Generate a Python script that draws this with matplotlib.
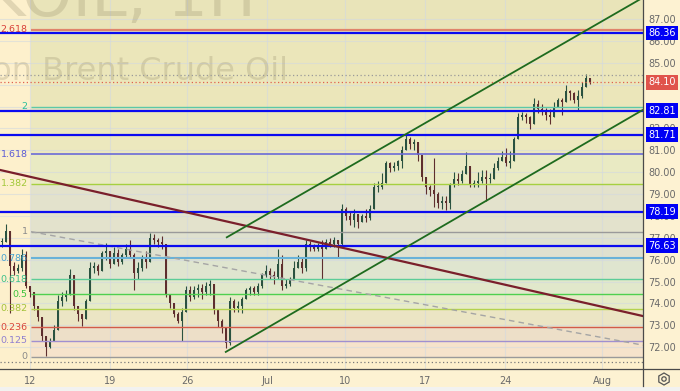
import numpy as np
import matplotlib
matplotlib.use("Agg")
import matplotlib.pyplot as plt
import matplotlib.transforms as mtrans
from matplotlib.patches import Rectangle, RegularPolygon, Circle
from matplotlib.lines import Line2D

# ---------------- data ----------------
first_open = 76.8
close = [76.8, 77.3, 75.7, 75.5, 75.6, 76.2, 74.8, 74.5, 73.9, 73.4,
         72.5, 72.0, 72.3, 72.8, 74.1, 74.3, 74.4, 75.3, 73.9, 73.5,
         73.3, 74.1, 75.6, 75.7, 75.5, 76.3, 76.4, 75.8, 76.3, 75.9,
         76.2, 76.5, 76.2, 75.4, 75.6, 76.1, 75.9, 77.0, 76.9, 76.8,
         76.7, 74.4, 74.0, 73.5, 73.2, 73.6, 74.6, 74.3, 74.6, 74.7,
         74.5, 74.8, 74.9, 73.7, 73.2, 72.9, 72.2, 74.1, 73.8, 73.9,
         74.2, 74.6, 74.7, 74.5, 74.8, 75.3, 75.5, 75.3, 75.2, 75.8,
         74.8, 74.9, 75.1, 75.6, 75.9, 75.6, 76.7, 76.6, 76.5, 76.6,
         76.5, 76.8, 76.7, 76.9, 76.7, 78.3, 78.0, 77.8, 78.1, 77.7,
         78.0, 77.9, 78.3, 79.3, 79.3, 79.5, 80.4, 80.2, 80.3, 80.5,
         81.0, 81.5, 81.3, 81.4, 80.8, 79.8, 79.3, 79.2, 79.0, 78.6,
         78.7, 78.6, 79.4, 79.7, 79.6, 79.9, 80.3, 79.4, 79.5, 79.6,
         79.8, 79.7, 79.7, 80.2, 80.5, 80.7, 80.4, 80.5, 81.5, 82.5,
         82.6, 82.5, 82.2, 83.1, 82.9, 82.8, 82.6, 82.5, 83.0, 83.3,
         83.2, 83.7, 83.6, 83.3, 83.5, 83.9, 84.3, 84.1]
high = [77.0, 77.65, 77.3, 75.9, 75.8, 76.5, 76.4, 74.8, 74.3, 73.8,
        73.3, 72.5, 72.4, 73.0, 74.4, 74.5, 74.6, 75.55, 75.3, 73.8,
        73.5, 74.2, 75.9, 75.9, 75.8, 76.4, 76.75, 76.4, 76.6, 76.5,
        76.3, 76.7, 76.9, 76.3, 75.9, 76.2, 76.4, 77.2, 77.15, 77.0,
        77.1, 76.7, 74.4, 73.9, 73.6, 73.8, 74.8, 74.8, 74.8, 74.9,
        74.9, 75.0, 75.05, 74.9, 73.6, 73.3, 72.9, 74.3, 74.2, 74.1,
        74.3, 74.7, 74.8, 74.8, 74.95, 75.4, 75.75, 75.6, 75.5, 76.5,
        76.2, 75.1, 75.2, 75.95, 76.2, 76.1, 76.9, 76.85, 76.7, 76.75,
        76.9, 76.95, 77.0, 77.05, 76.9, 78.55, 78.4, 78.2, 78.3, 78.1,
        78.1, 78.3, 78.5, 79.5, 79.6, 79.95, 80.5, 80.45, 80.45, 80.55,
        81.2, 81.75, 81.6, 81.5, 81.4, 80.8, 79.8, 79.4, 80.65, 79.1,
        78.9, 78.9, 79.5, 80.0, 79.95, 80.1, 80.9, 80.3, 79.65, 80.0,
        80.1, 80.1, 79.95, 80.4, 80.7, 80.95, 81.1, 80.95, 81.6, 82.7,
        82.75, 82.7, 82.55, 83.4, 83.3, 83.1, 82.95, 82.9, 83.2, 83.4,
        83.4, 83.98, 83.75, 83.65, 83.75, 84.1, 84.48, 84.25]
low = [76.6, 76.8, 73.55, 75.3, 75.4, 75.5, 74.7, 74.3, 73.7, 73.2,
       72.3, 71.6, 71.95, 72.3, 72.8, 73.9, 74.1, 74.4, 73.7, 73.2,
       72.95, 73.3, 74.1, 75.4, 75.3, 75.5, 76.0, 75.6, 75.8, 75.7,
       75.8, 76.1, 76.1, 74.6, 75.1, 75.5, 75.6, 75.9, 76.7, 76.6,
       76.5, 74.3, 73.8, 73.4, 73.1, 72.3, 73.6, 74.1, 74.2, 74.3,
       74.2, 74.4, 74.4, 73.5, 72.9, 72.65, 71.98, 72.1, 73.6, 73.6,
       73.55, 74.2, 74.4, 74.4, 74.4, 74.7, 75.2, 75.1, 74.9, 75.1,
       74.6, 74.7, 74.8, 75.2, 75.6, 75.4, 75.5, 76.4, 76.4, 76.4,
       75.1, 76.55, 76.6, 76.6, 76.1, 76.6, 77.8, 77.6, 77.5, 77.45,
       77.7, 77.7, 77.8, 78.3, 79.1, 79.25, 79.5, 80.0, 80.05, 80.1,
       80.2, 81.0, 81.05, 81.0, 80.5, 79.6, 79.0, 78.9, 78.4, 78.35,
       78.3, 78.25, 78.3, 79.3, 79.4, 79.5, 79.9, 79.3, 79.3, 79.3,
       79.5, 78.7, 79.5, 79.8, 80.1, 80.5, 80.3, 80.2, 80.6, 81.5,
       82.4, 82.25, 81.95, 82.3, 82.7, 82.6, 82.4, 82.2, 82.55, 83.0,
       82.6, 83.2, 83.3, 83.15, 82.85, 83.4, 84.1, 84.05]

date_labels = ["12", "19", "26", "Jul", "10", "17", "24", "Aug"]
date_bars = [7, 27, 46.25, 66.25, 85.75, 105.75, 125.75, 150]

fib_low, fib_high = 71.57, 77.28
fib_ratios = [0, 0.125, 0.236, 0.382, 0.5, 0.618, 0.786, 1, 1.382, 1.618, 2, 2.618]
fib_labels = ["0", "0.125", "0.236", "0.382", "0.5", "0.618", "0.786", "1",
              "1.382", "1.618", "2", "2.618"]

blue_levels = [86.36, 82.81, 81.71, 78.19, 76.63]
last_price = 84.10
range_high = 84.45
range_low = 71.30

channel_upper = [(56.0, 77.0), (159.5, 87.9)]
channel_lower = [(55.75, 71.76), (160.25, 82.85)]
red_trend = [(-0.5, 80.10), (160.25, 73.42)]
fib_trend = [(7.25, 77.28), (160.25, 72.09)]

# ---------------- styles ----------------
fib_line_colors = ['#9a9a9a', '#a08fd0', '#d25a4a', '#b3d24e', '#4fd04f', '#5ccc98',
                   '#68b2d8', '#9a9a9a', '#a6d040', '#6a6ad8', '#5cc8a8', '#e0846c']
fib_text_colors = ['#8a8a8a', '#8f7fd0', '#d8463c', '#a4c23a', '#3dc43d', '#3cc08a',
                   '#4aa3d0', '#8a8a8a', '#a2c83a', '#5b5bd6', '#2bbf9b', '#d9413a']
fib_line_widths = [1.0, 1.0, 1.0, 1.0, 1.0, 1.0, 1.5, 1.0, 1.0, 1.2, 1.0, 1.6]
band_colors = ['#f6e3cb', '#eddfc8', '#ebe5c4', '#e6ebc7', '#e1e8cb', '#dfe5cf',
               '#dfe1cf', '#e3e2cc', '#e9eac3', '#ece8be', '#ebe6ba']
top_band = '#e9e4b9'

W, H = 680, 391
fig = plt.figure(figsize=(W / 100, H / 100), dpi=100)
fig.patch.set_facecolor('#fdf2d2')
ax = fig.add_axes([0, 22 / H, 643 / W, 369 / H])
ax.set_facecolor('#fdf0cc')
x_left, x_right = -0.5, 160.25
ax.set_xlim(x_left, x_right)
ax.set_ylim(71.0, 87.87)

fib_x0 = 7.25
levels = [fib_low + r * (fib_high - fib_low) for r in fib_ratios]

# fib background bands
for j in range(len(levels) - 1):
    ax.add_patch(Rectangle((fib_x0, levels[j]), x_right + 5 - fib_x0,
                           levels[j + 1] - levels[j], fc=band_colors[j], ec='none', zorder=0.2))
ax.add_patch(Rectangle((fib_x0, levels[-1]), x_right + 5 - fib_x0, 5,
                       fc=top_band, ec='none', zorder=0.2))

# grid
for p in range(72, 88):
    ax.axhline(p, color='#d3d9e0', lw=0.8, alpha=0.6, zorder=0.3)
for b in date_bars:
    ax.axvline(b, color='#d3d9e0', lw=0.8, alpha=0.6, zorder=0.3)

# watermark
ax.text(256 / W, 1 - 16 / H, "UKOIL, 1H", transform=fig.transFigure, ha='right',
        va='baseline', fontsize=46, color='#8a8060', alpha=0.24, zorder=0.4, clip_on=True)
ax.text(288 / W, 1 - 80 / H, "London Brent Crude Oil", transform=fig.transFigure,
        ha='right', va='baseline', fontsize=23, color='#8a8060', alpha=0.24, zorder=0.4,
        clip_on=True)

# candles
idx = np.arange(len(close))
c = np.array(close)
o = np.concatenate([[first_open], c[:-1]])
h = np.maximum(np.array(high), np.maximum(o, c))
l = np.minimum(np.array(low), np.minimum(o, c))
up = c >= o
cols = np.where(up, '#2a5240', '#5e2e2e')
ax.vlines(idx, l, h, colors=cols, lw=0.8, zorder=2)
body_b = np.minimum(o, c)
body_h = np.maximum(np.abs(c - o), 0.05)
ax.bar(idx, body_h, bottom=body_b, width=0.72, color=cols, edgecolor='none', zorder=2.1)

# fib lines & labels
for lv, lc, tc, lw, lab in zip(levels, fib_line_colors, fib_text_colors, fib_line_widths, fib_labels):
    ax.hlines(lv, fib_x0, x_right + 5, colors=lc, lw=lw, zorder=3)
    ax.text(6.4, lv, lab, ha='right', va='center', color=tc, fontsize=6.8, zorder=3.5)

# fib trend (dashed)
(fx0, fy0), (fx1, fy1) = fib_trend
ax.plot([fx0, fx1], [fy0, fy1], color='#a5a5a5', lw=1.0, ls=(0, (4, 3)), zorder=3)

# dotted price lines
ax.axhline(range_high, color='#9a9a9a', lw=0.9, ls=(0, (1, 2)), zorder=3)
ax.axhline(last_price, color='#e0604f', lw=0.9, ls=(0, (1, 2)), zorder=3)
ax.axhline(range_low, color='#7a7a7a', lw=0.9, ls=(0, (1, 2)), zorder=3)

# blue levels
for bl in blue_levels:
    ax.axhline(bl, color='#0b0bf0', lw=1.6, zorder=4)

# red trend
ax.axline(red_trend[0], red_trend[1], color='#7a1f2b', lw=1.6, zorder=4)

# channel
for (x0, y0), (x1, y1) in (channel_upper, channel_lower):
    s = (y1 - y0) / (x1 - x0)
    xe = x_right + 5
    ax.plot([x0, xe], [y0, y0 + s * (xe - x0)], color='#1e6b1e', lw=1.3, zorder=4,
            solid_capstyle='butt')

# axes styling
for sp in ax.spines.values():
    sp.set_visible(False)
ax.yaxis.tick_right()
ax.set_yticks(range(72, 88))
ax.set_yticklabels([f"{v:.2f}" for v in range(72, 88)])
ax.tick_params(axis='y', length=0, pad=4, labelsize=7, labelcolor='#6a6a6a')
ax.set_xticks(date_bars)
ax.set_xticklabels(date_labels)
ax.tick_params(axis='x', length=0, pad=5, labelsize=7, labelcolor='#6a6a6a')

# price badges
trans = mtrans.blended_transform_factory(ax.transAxes, ax.transData)
for bl in blue_levels:
    ax.text(1.0 + 5 / 643, bl, f"{bl:.2f}", transform=trans, ha='left', va='center',
            fontsize=7, color='white', zorder=10, clip_on=False,
            bbox=dict(boxstyle='square,pad=0.25', fc='#0000f5', ec='none'))
ax.text(1.0 + 5 / 643, last_price, f"{last_price:.2f}", transform=trans, ha='left',
        va='center', fontsize=7, color='white', zorder=10, clip_on=False,
        bbox=dict(boxstyle='square,pad=0.25', fc='#e0544b', ec='none'))

# frame lines
fig.add_artist(Line2D([643 / W, 643 / W], [5 / H, 1], color='#4a4a4a', lw=0.9))
fig.add_artist(Line2D([0, 1], [22 / H, 22 / H], color='#4a4a4a', lw=0.9))
fig.add_artist(Rectangle((0, 0), 1, 4 / H, transform=fig.transFigure, fc='#f2f2f0', ec='none'))

# settings icon
ident = mtrans.IdentityTransform()
fig.add_artist(RegularPolygon((664, H - 379), numVertices=6, radius=6, orientation=0,
                              transform=ident, fc='none', ec='#555', lw=0.9))
fig.add_artist(Circle((664, H - 379), 2.2, transform=ident, fc='none', ec='#555', lw=0.9))

fig.savefig('out.png', dpi=100, facecolor=fig.get_facecolor())
